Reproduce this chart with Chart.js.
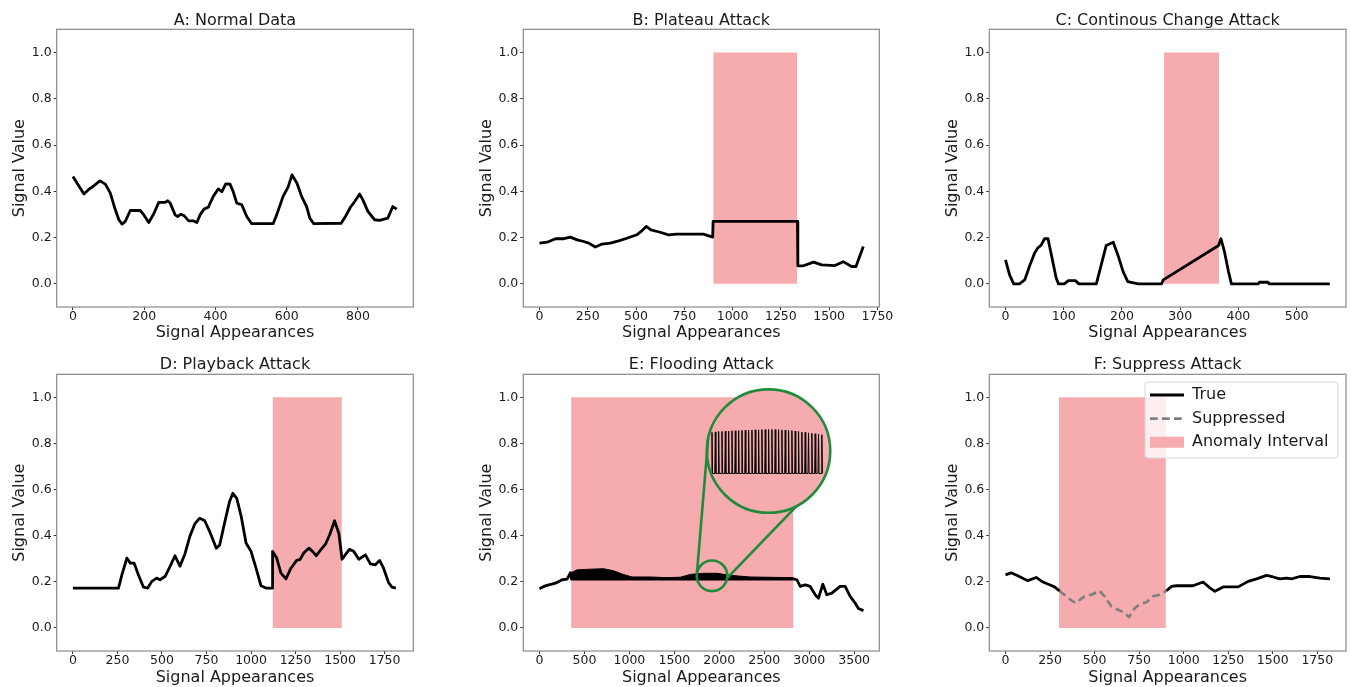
<!DOCTYPE html>
<html>
<head>
<meta charset="utf-8">
<title>Attack types</title>
<script src="https://cdn.jsdelivr.net/npm/chart.js@4.4.0/dist/chart.umd.min.js"></script>
<style>
  body { margin: 0; background: #fff; }
  #wrap { position: relative; width: 1351px; height: 687px; }
  #wrap canvas { position: absolute; }
</style>
</head>
<body>
<div id="wrap"></div>
<script>
// ---- data: [signal appearance, signal value] ----
const normalSignal = [[0,0.464],[31,0.388],[45,0.409],[54,0.418],[76,0.445],[91,0.431],[105,0.392],[119,0.320],[129,0.277],[138,0.258],[147,0.270],[161,0.317],[189,0.317],[199,0.298],[213,0.265],[227,0.303],[241,0.352],[259,0.352],[266,0.359],[273,0.349],[287,0.298],[294,0.291],[303,0.301],[312,0.295],[325,0.272],[339,0.272],[348,0.265],[357,0.298],[368,0.323],[380,0.331],[394,0.378],[408,0.410],[418,0.398],[429,0.432],[441,0.431],[450,0.398],[460,0.349],[474,0.342],[488,0.291],[502,0.260],[562,0.260],[572,0.298],[590,0.378],[604,0.418],[615,0.471],[629,0.435],[642,0.378],[656,0.334],[665,0.284],[676,0.260],[753,0.262],[765,0.291],[779,0.331],[791,0.356],[805,0.388],[814,0.363],[828,0.313],[847,0.277],[861,0.274],[884,0.284],[898,0.334],[909,0.323]];

const plateauSignal = [[0,0.176],[40,0.180],[83,0.195],[126,0.195],[160,0.202],[195,0.190],[229,0.183],[255,0.176],[289,0.159],[324,0.172],[367,0.176],[410,0.186],[453,0.197],[504,0.212],[530,0.229],[553,0.248],[577,0.233],[625,0.223],[668,0.212],[711,0.215],[849,0.215],[897,0.202],[899,0.270],[1336,0.270],[1338,0.078],[1367,0.078],[1419,0.094],[1462,0.082],[1530,0.079],[1573,0.096],[1616,0.075],[1639,0.075],[1677,0.161]];
const plateauInterval = [900, 1335];

const continuousSignal = [[0,0.104],[7,0.039],[14,0],[24,0],[33,0.017],[41,0.075],[50,0.133],[56,0.157],[61,0.166],[67,0.195],[73,0.195],[80,0.111],[87,0.025],[91,0],[101,0],[108,0.014],[120,0.014],[126,0],[156,0],[163,0.068],[173,0.166],[185,0.180],[193,0.125],[202,0.053],[210,0.010],[228,0],[268,0],[271,0.017],[366,0.166],[370,0.195],[376,0.140],[383,0.053],[388,0],[434,0],[436,0.007],[451,0.007],[453,0],[557,0]];
const continuousInterval = [272, 367];

const playbackSignal = [[0,0.173],[256,0.173],[275,0.230],[303,0.303],[322,0.281],[344,0.281],[368,0.230],[396,0.177],[420,0.173],[443,0.202],[470,0.216],[489,0.209],[517,0.223],[545,0.266],[573,0.313],[601,0.268],[629,0.321],[656,0.396],[684,0.451],[712,0.476],[740,0.465],[768,0.418],[805,0.346],[824,0.360],[851,0.454],[879,0.547],[898,0.584],[920,0.562],[945,0.483],[972,0.368],[1000,0.332],[1028,0.259],[1056,0.183],[1084,0.173],[1118,0.173],[1121,0.332],[1144,0.303],[1168,0.238],[1196,0.213],[1224,0.259],[1256,0.293],[1274,0.296],[1298,0.327],[1326,0.346],[1345,0.332],[1367,0.313],[1391,0.339],[1419,0.365],[1441,0.403],[1469,0.465],[1493,0.410],[1511,0.298],[1552,0.341],[1577,0.332],[1605,0.298],[1642,0.317],[1670,0.278],[1698,0.274],[1722,0.293],[1744,0.259],[1772,0.197],[1791,0.177],[1813,0.173]];
const playbackInterval = [1121, 1510];

const floodingSignal = [[0,0.170],[48,0.180],[104,0.187],[178,0.194],[252,0.209],[307,0.212],[345,0.240],[356,0.212],[2826,0.213],[2863,0.209],[2900,0.180],[2955,0.187],[3011,0.180],[3067,0.144],[3104,0.129],[3152,0.190],[3196,0.144],[3252,0.151],[3344,0.180],[3400,0.180],[3456,0.137],[3511,0.108],[3548,0.084],[3604,0.075]];
const floodingEnvelope = [[356,0.240],[419,0.252],[578,0.255],[711,0.257],[822,0.248],[933,0.232],[1030,0.221],[1233,0.221],[1419,0.218],[1567,0.220],[1678,0.232],[1826,0.237],[1974,0.237],[2122,0.228],[2344,0.221],[2822,0.218]];
const floodingBase = 0.21;
const floodingInterval = [352, 2826];
// magnified view: spike tops between floodSpikeSpan, drawn on the panel's own axes
const floodSpikeTops = [0.848,0.850,0.852,0.852,0.853,0.854,0.855,0.855,0.856,0.857,0.857,0.858,0.858,0.859,0.859,0.860,0.860,0.861,0.861,0.860,0.860,0.859,0.858,0.857,0.856,0.854,0.852,0.850,0.848,0.846,0.844,0.842,0.840,0.838];
const floodSpikeBase = 0.670;
const floodSpikeSpan = [1919, 3141];

const suppressTrueBefore = [[0,0.230],[31,0.239],[69,0.226],[125,0.205],[172,0.219],[210,0.199],[247,0.187],[275,0.178],[303,0.161]];
const suppressed = [[303,0.161],[350,0.130],[393,0.108],[444,0.137],[482,0.144],[528,0.161],[556,0.137],[594,0.094],[631,0.079],[660,0.069],[693,0.047],[725,0.085],[753,0.103],[791,0.111],[828,0.137],[866,0.144],[903,0.161]];
const suppressTrueAfter = [[903,0.161],[931,0.180],[959,0.183],[1052,0.183],[1109,0.199],[1147,0.174],[1175,0.159],[1222,0.178],[1306,0.178],[1362,0.202],[1409,0.213],[1465,0.228],[1502,0.221],[1540,0.213],[1577,0.216],[1606,0.213],[1652,0.223],[1709,0.223],[1765,0.216],[1821,0.213]];
const suppressInterval = [300, 900];

const yTicks = [0, 0.2, 0.4, 0.6, 0.8, 1.0];

// ---- look ----
const PINK = '#f6abae';
const GREEN = '#1f8b3b';
const TEXT = '#1a1a1a';
Chart.defaults.font.family = 'DejaVu Sans';
Chart.defaults.color = TEXT;

const COLS = [
  { left: 0,   width: 450, axisW: 56.7, yTitlePad: 12,   padRight: 36.7 },
  { left: 450, width: 450, axisW: 73.3, yTitlePad: 28.7, padRight: 20.7 },
  { left: 900, width: 451, axisW: 89.3, yTitlePad: 45.3, padRight: 5 }
];
const ROWS = [
  { top: 0,   height: 345, axisH: 38, titleTop: 13,   titleBottom: 0.3, xTitlePad: 3.7 },
  { top: 345, height: 342, axisH: 36, titleTop: 11.5, titleBottom: 1.8, xTitlePad: 0.7 }
];

function pts(arr) {
    return arr.map(p => ({ x: p[0], y: p[1] }));
}

function lineSet(label, arr, extra) {
    return Object.assign({
        label: label,
        data: pts(arr),
        borderColor: '#000',
        backgroundColor: '#000',
        borderWidth: 2.8,
        borderJoinStyle: 'round',
        pointRadius: 0,
        pointStyle: 'line',
        fill: false,
        tension: 0
    }, extra || {});
}

function intervalSet(range) {
    return {
        label: 'Anomaly Interval',
        data: [{ x: range[0], y: 1 }, { x: range[1], y: 1 }],
        borderWidth: 0,
        borderColor: PINK,
        backgroundColor: PINK,
        pointRadius: 0,
        pointStyle: 'rect',
        fill: { value: 0 }
    };
}

// all four spines
const frame = {
    id: 'frame',
    afterDatasetsDraw(chart) {
        const { ctx, chartArea: a } = chart;
        ctx.save();
        ctx.strokeStyle = '#8a8a8a';
        ctx.lineWidth = 1.2;
        ctx.strokeRect(a.left, a.top, a.right - a.left, a.bottom - a.top);
        ctx.restore();
    }
};
Chart.register(frame);

// magnifier on the flooding panel
const INSET = {
    small: { x: 1919, y: 0.226, r: 15.3 },
    big:   { x: 2548, y: 0.767, r: 61.7 },
    links: [[-170, -168], [9, 63]]   // angle on small circle, angle on big circle
};
const insetPlugin = {
    id: 'inset',
    beforeDatasetsDraw(chart) {
        const { ctx, scales } = chart;
        const bx = scales.x.getPixelForValue(INSET.big.x), by = scales.y.getPixelForValue(INSET.big.y);
        ctx.save();
        ctx.fillStyle = PINK;
        ctx.beginPath();
        ctx.arc(bx, by, INSET.big.r, 0, Math.PI * 2);
        ctx.fill();
        ctx.restore();
    },
    afterDatasetsDraw(chart) {
        const { ctx, scales } = chart;
        const s = INSET.small, b = INSET.big;
        const sx = scales.x.getPixelForValue(s.x), sy = scales.y.getPixelForValue(s.y);
        const bx = scales.x.getPixelForValue(b.x), by = scales.y.getPixelForValue(b.y);
        ctx.save();
        ctx.strokeStyle = GREEN;
        ctx.lineWidth = 2.6;
        INSET.links.forEach(l => {
            const a1 = l[0] * Math.PI / 180, a2 = l[1] * Math.PI / 180;
            ctx.beginPath();
            ctx.moveTo(sx + s.r * Math.cos(a1), sy + s.r * Math.sin(a1));
            ctx.lineTo(bx + b.r * Math.cos(a2), by + b.r * Math.sin(a2));
            ctx.stroke();
        });
        ctx.beginPath();
        ctx.arc(sx, sy, s.r, 0, Math.PI * 2);
        ctx.stroke();
        ctx.beginPath();
        ctx.arc(bx, by, b.r, 0, Math.PI * 2);
        ctx.stroke();
        ctx.restore();
    }
};

function spikeData() {
    const n = floodSpikeTops.length;
    const step = (floodSpikeSpan[1] - floodSpikeSpan[0]) / (n - 1);
    const out = [];
    floodSpikeTops.forEach((top, i) => {
        const xi = floodSpikeSpan[0] + i * step;
        out.push({ x: xi - 6, y: floodSpikeBase }, { x: xi, y: top }, { x: xi + 6, y: floodSpikeBase });
    });
    return out;
}

// legend inside the axes, top right, on top of the data
function drawLegendOnTop(chart) {
    const lg = chart.legend, a = chart.chartArea, ctx = chart.ctx;
    const bx = a.right - 201, by = a.top + 7.7, bw = 193, bh = 76;
    ctx.save();
    ctx.fillStyle = 'rgba(255,255,255,0.8)';
    ctx.strokeStyle = '#d6d6d6';
    ctx.lineWidth = 1;
    ctx.beginPath();
    ctx.roundRect(bx, by, bw, bh, 3);
    ctx.fill();
    ctx.stroke();
    ctx.restore();
    lg.left = a.right - 203.6;
    lg.top = a.top + 5.1;
    lg.right = lg.left + 205;
    lg.bottom = lg.top + 95;
    lg.draw();
}
const legendOnTop = {
    id: 'legendOnTop',
    afterInit(chart) {
        if (!chart.legend) return;
        chart.legend._layers = () => [{ z: 10, draw: () => drawLegendOnTop(chart) }];
    }
};

function makeChart(col, row, spec) {
    const c = COLS[col], r = ROWS[row];
    const canvas = document.createElement('canvas');
    canvas.width = c.width;
    canvas.height = r.height;
    canvas.style.left = c.left + 'px';
    canvas.style.top = r.top + 'px';
    document.getElementById('wrap').appendChild(canvas);

    const tickFont = { size: 12.5, lineHeight: 1 };
    const labelFont = { size: 16, lineHeight: 1 };
    const legend = spec.legend ? {
        display: true,
        position: 'chartArea',
        align: 'start',
        labels: {
            usePointStyle: true,
            pointStyleWidth: 34,
            boxHeight: 11,
            padding: 7.6,
            color: TEXT,
            font: { size: 16, lineHeight: 1 },
            generateLabels: (ch) => Chart.defaults.plugins.legend.labels.generateLabels(ch).map(item => {
                const ds = ch.data.datasets[item.datasetIndex];
                item.lineDash = ds.borderDash || [];
                item.lineWidth = ds.borderWidth;
                item.strokeStyle = ds.borderColor;
                item.fillStyle = ds.backgroundColor;
                return item;
            })
        }
    } : { display: false };

    return new Chart(canvas, {
        type: 'line',
        data: { datasets: spec.datasets },
        plugins: spec.plugins || [],
        options: {
            responsive: false,
            animation: false,
            devicePixelRatio: 1,
            events: [],
            layout: { padding: { left: 0, right: c.padRight, top: 0, bottom: 0 } },
            plugins: {
                title: {
                    display: true,
                    text: spec.title,
                    fullSize: false,
                    color: TEXT,
                    font: { size: 16, weight: 'normal', lineHeight: 1 },
                    padding: { top: r.titleTop, bottom: r.titleBottom }
                },
                legend: legend,
                tooltip: { enabled: false }
            },
            scales: {
                x: {
                    type: 'linear',
                    min: spec.xMin,
                    max: spec.xMax,
                    afterBuildTicks: (s) => { s.ticks = spec.xTicks.map(v => ({ value: v })); },
                    afterFit: (s) => { s.height = r.axisH; },
                    ticks: { callback: v => String(v), font: tickFont, color: TEXT, padding: 0.5, maxRotation: 0, autoSkip: false },
                    grid: { drawOnChartArea: false, drawTicks: true, tickLength: 3, color: '#333' },
                    border: { display: false },
                    title: { display: true, text: 'Signal Appearances', color: TEXT, font: labelFont, padding: { top: 0, bottom: r.xTitlePad } }
                },
                y: {
                    type: 'linear',
                    min: -0.1,
                    max: 1.1,
                    afterBuildTicks: (s) => { s.ticks = yTicks.map(v => ({ value: v })); },
                    afterFit: (s) => { s.width = c.axisW; },
                    ticks: { callback: v => v.toFixed(1), font: tickFont, color: TEXT, padding: 2, autoSkip: false },
                    grid: { drawOnChartArea: false, drawTicks: true, tickLength: 3, color: '#333' },
                    border: { display: false },
                    title: { display: true, text: 'Signal Value', color: TEXT, font: labelFont, padding: { top: c.yTitlePad, bottom: 0 } }
                }
            }
        }
    });
}

makeChart(0, 0, {
    title: 'A: Normal Data',
    xMin: -45.5, xMax: 955.5, xTicks: [0, 200, 400, 600, 800],
    datasets: [lineSet('Signal', normalSignal)]
});

makeChart(1, 0, {
    title: 'B: Plateau Attack',
    xMin: -83.8, xMax: 1759.8, xTicks: [0, 250, 500, 750, 1000, 1250, 1500, 1750],
    datasets: [lineSet('Signal', plateauSignal), intervalSet(plateauInterval)]
});

makeChart(2, 0, {
    title: 'C: Continous Change Attack',
    xMin: -27.85, xMax: 584.85, xTicks: [0, 100, 200, 300, 400, 500],
    datasets: [lineSet('Signal', continuousSignal), intervalSet(continuousInterval)]
});

makeChart(0, 1, {
    title: 'D: Playback Attack',
    xMin: -91, xMax: 1911, xTicks: [0, 250, 500, 750, 1000, 1250, 1500, 1750],
    datasets: [lineSet('Signal', playbackSignal), intervalSet(playbackInterval)]
});

makeChart(1, 1, {
    title: 'E: Flooding Attack',
    xMin: -180, xMax: 3780, xTicks: [0, 500, 1000, 1500, 2000, 2500, 3000, 3500],
    datasets: [
        lineSet('Signal', floodingSignal),
        lineSet('Flood', floodingEnvelope, { borderWidth: 1, fill: { value: floodingBase } }),
        { label: 'Magnified', data: spikeData(), borderColor: '#000', borderWidth: 1, pointRadius: 0, fill: false, tension: 0 },
        intervalSet(floodingInterval)
    ],
    plugins: [insetPlugin]
});

makeChart(2, 1, {
    title: 'F: Suppress Attack',
    xMin: -91, xMax: 1911, xTicks: [0, 250, 500, 750, 1000, 1250, 1500, 1750],
    legend: true,
    datasets: [
        lineSet('True', suppressTrueBefore.concat([[600, null]], suppressTrueAfter), { spanGaps: false }),
        lineSet('Suppressed', suppressed, { borderColor: '#7f7f7f', backgroundColor: '#7f7f7f', borderWidth: 2.6, borderDash: [7.7, 4.3] }),
        intervalSet(suppressInterval)
    ],
    plugins: [legendOnTop]
});
</script>
</body>
</html>
